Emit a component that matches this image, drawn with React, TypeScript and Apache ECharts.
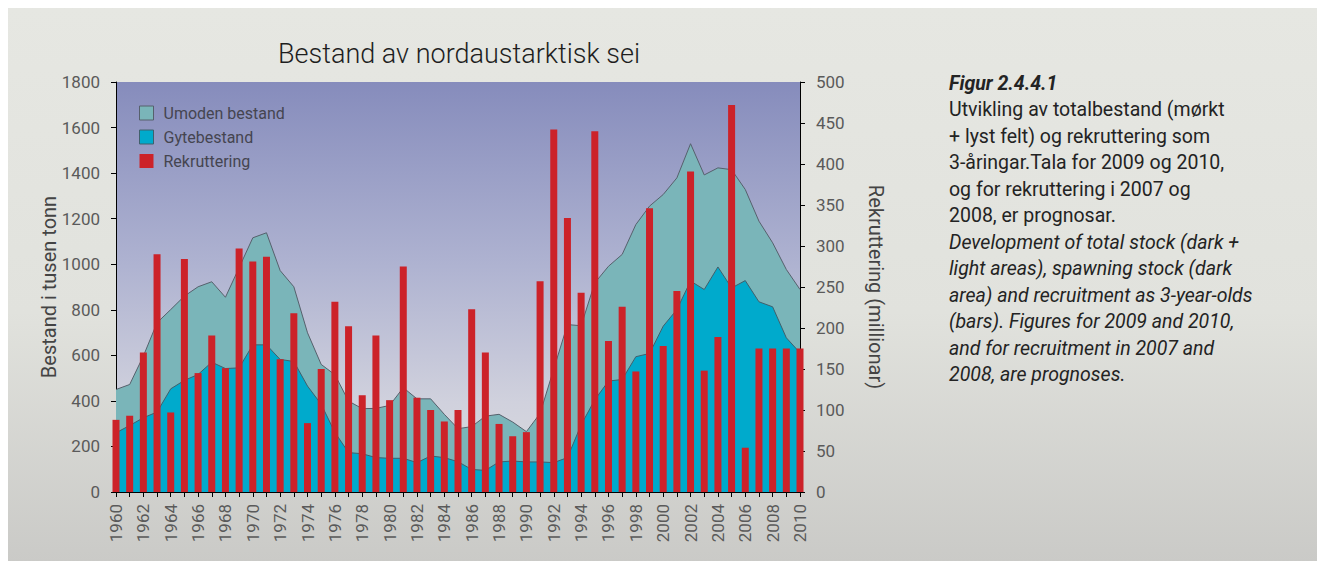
import React, { useEffect, useRef } from "react";
import * as echarts from "echarts";

const years = [
  "1960","1961","1962","1963","1964","1965","1966","1967","1968","1969",
  "1970","1971","1972","1973","1974","1975","1976","1977","1978","1979",
  "1980","1981","1982","1983","1984","1985","1986","1987","1988","1989",
  "1990","1991","1992","1993","1994","1995","1996","1997","1998","1999",
  "2000","2001","2002","2003","2004","2005","2006","2007","2008","2009","2010",
];

// Total stock (umoden + gytebestand), thousand tonnes
const totalStock = [
  450, 472, 597, 743, 801, 860, 901, 923, 855, 985,
  1116, 1138, 972, 901, 699, 560, 515, 399, 366, 367,
  380, 458, 409, 409, 341, 278, 287, 333, 341, 307,
  265, 345, 540, 735, 730, 918, 991, 1043, 1174, 1255,
  1306, 1379, 1529, 1392, 1423, 1415, 1328, 1189, 1094, 977, 889,
];

// Spawning stock, thousand tonnes
const spawningStock = [
  260, 292, 326, 351, 453, 490, 516, 570, 542, 545,
  646, 646, 582, 573, 465, 385, 262, 173, 168, 151,
  148, 148, 129, 158, 151, 133, 99, 95, 132, 136,
  132, 132, 129, 151, 295, 405, 487, 494, 594, 608,
  728, 801, 926, 889, 988, 896, 928, 835, 813, 677, 611,
];

// Recruitment as 3-year-olds, millions
const recruitment = [
  88, 93, 170, 290, 97, 284, 145, 191, 151, 297,
  281, 287, 162, 218, 84, 150, 232, 202, 118, 191,
  112, 275, 115, 100, 86, 100, 223, 170, 83, 68,
  73, 257, 442, 334, 243, 440, 184, 226, 147, 346,
  178, 245, 391, 148, 189, 472, 54, 175, 175, 175, 175,
];

const captionLines = [
  { text: "Figur 2.4.4.1", style: "bold" },
  { text: "Utvikling av totalbestand (mørkt", style: "normal" },
  { text: "+ lyst felt) og rekruttering som", style: "normal" },
  { text: "3-åringar.Tala for 2009 og 2010,", style: "normal" },
  { text: "og for rekruttering i 2007 og", style: "normal" },
  { text: "2008, er prognosar.", style: "normal" },
  { text: "Development of total stock (dark +", style: "italic" },
  { text: "light areas), spawning stock (dark", style: "italic" },
  { text: "area) and recruitment as 3-year-olds", style: "italic" },
  { text: "(bars). Figures for 2009 and 2010,", style: "italic" },
  { text: "and for recruitment in 2007 and", style: "italic" },
  { text: "2008, are prognoses.", style: "italic" },
];

const FONT = "Roboto, 'Open Sans', sans-serif";

export default function App() {
  const ref = useRef<HTMLDivElement>(null);

  useEffect(() => {
    if (!ref.current) return;
    const chart = echarts.init(ref.current, undefined, { renderer: "svg" });

    const captionGraphics = captionLines.map((l, i) => ({
      type: "text",
      x: 941,
      y: 75 + i * 26.5,
      style: {
        text: l.text,
        fill: "#232323",
        font: `${l.style === "bold" ? "italic bold" : l.style === "italic" ? "italic" : "normal"} 19.5px ${FONT}`,
        verticalAlign: "middle",
        align: "left",
      },
    }));

    chart.setOption({
      animation: false,
      backgroundColor: {
        type: "linear", x: 0, y: 0, x2: 0, y2: 1,
        colorStops: [
          { offset: 0, color: "#e6e7e2" },
          { offset: 0.55, color: "#e1e2dd" },
          { offset: 1, color: "#cacac7" },
        ],
      },
      textStyle: { fontFamily: FONT },
      grid: {
        left: 108, top: 74, width: 684, height: 410,
        show: true,
        borderWidth: 0,
        backgroundColor: {
          type: "linear", x: 0, y: 0, x2: 0, y2: 1,
          colorStops: [
            { offset: 0, color: "#868cbc" },
            { offset: 0.45, color: "#afb3d1" },
            { offset: 0.78, color: "#d0d1dd" },
            { offset: 1, color: "#dbdbdd" },
          ],
        },
      },
      legend: {
        orient: "vertical",
        left: 131,
        top: 97,
        padding: 0,
        itemWidth: 14,
        itemHeight: 14,
        itemGap: 8,
        icon: "rect",
        textStyle: { fontSize: 16, color: "#454550", fontFamily: FONT, padding: [0, 0, 0, 5] },
        data: [
          { name: "Umoden bestand", itemStyle: { color: "#7ab5b9", borderColor: "#56606c", borderWidth: 1 } },
          { name: "Gytebestand", itemStyle: { color: "#00aacc", borderColor: "#40606c", borderWidth: 1 } },
          { name: "Rekruttering", itemStyle: { color: "#cc2229", borderWidth: 0 } },
        ],
      },
      xAxis: {
        type: "category",
        data: years,
        boundaryGap: false,
        axisLine: { lineStyle: { color: "#000", width: 1 } },
        axisTick: { interval: 0, length: 5, lineStyle: { color: "#000" } },
        axisLabel: { interval: 1, rotate: 90, fontSize: 17, color: "#5a5a5a", margin: 12, fontFamily: FONT },
        splitLine: { show: false },
      },
      yAxis: [
        {
          type: "value",
          min: 0, max: 1800, interval: 200,
          name: "Bestand i tusen tonn",
          nameLocation: "middle",
          nameGap: 57,
          nameMoveOverlap: false,
          nameRotate: 90,
          nameTextStyle: { fontSize: 20, color: "#444", fontFamily: FONT },
          axisLine: { show: true, lineStyle: { color: "#000" } },
          axisTick: { show: true, length: 5, lineStyle: { color: "#000" } },
          axisLabel: { fontSize: 17, color: "#5a5a5a", margin: 16, fontFamily: FONT, formatter: (v: number) => String(v) },
          splitLine: { show: false },
        },
        {
          type: "value",
          min: 0, max: 500, interval: 50,
          position: "right",
          name: "Rekruttering (millionar)",
          nameLocation: "middle",
          nameGap: 66,
          nameRotate: -90,
          nameTextStyle: { fontSize: 20, color: "#444", fontFamily: FONT },
          axisLine: { show: true, lineStyle: { color: "#000" } },
          axisTick: { show: true, length: 5, lineStyle: { color: "#000" } },
          axisLabel: { fontSize: 17, color: "#5a5a5a", margin: 16, fontFamily: FONT, formatter: (v: number) => String(v) },
          splitLine: { show: false },
        },
      ],
      series: [
        {
          name: "Umoden bestand",
          type: "line",
          data: totalStock,
          yAxisIndex: 0,
          showSymbol: false,
          symbol: "none",
          lineStyle: { color: "#56606c", width: 1 },
          itemStyle: { color: "#7ab5b9" },
          areaStyle: { color: "#7ab5b9", opacity: 1 },
          z: 1,
        },
        {
          name: "Gytebestand",
          type: "line",
          data: spawningStock,
          yAxisIndex: 0,
          showSymbol: false,
          symbol: "none",
          lineStyle: { color: "#40606c", width: 1 },
          itemStyle: { color: "#00aacc" },
          areaStyle: { color: "#00aacc", opacity: 1 },
          z: 2,
        },
        {
          name: "Rekruttering",
          type: "bar",
          data: recruitment,
          yAxisIndex: 1,
          barWidth: 7,
          itemStyle: { color: "#cc2229" },
          z: 3,
        },
      ],
      graphic: [
        {
          type: "text",
          x: 451,
          y: 46,
          style: {
            text: "Bestand av nordaustarktisk sei",
            fill: "#1e1e1e",
            font: `300 27px ${FONT}`,
            align: "center",
            verticalAlign: "middle",
          },
        },
        ...captionGraphics,
      ],
    });

    return () => chart.dispose();
  }, []);

  return (
    <div
      ref={ref}
      style={{ position: "absolute", left: 8, top: 8, width: 1309, height: 553 }}
    />
  );
}
